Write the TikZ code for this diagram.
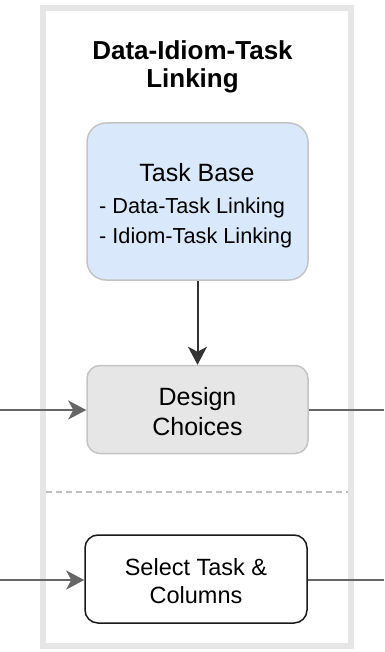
\documentclass[tikz,border=0pt]{standalone}
\usepackage{fontspec}
\setmainfont{Liberation Sans}
\usetikzlibrary{arrows.meta}
\definecolor{framegray}{HTML}{E6E6E6}
\definecolor{taskblue}{HTML}{DAE8FC}
\definecolor{boxline}{HTML}{C4C4C4}
\definecolor{choicefill}{HTML}{E6E6E6}
\definecolor{darkline}{HTML}{333333}
\definecolor{midline}{HTML}{666666}
\definecolor{dashgray}{HTML}{C0C0C0}
\tikzset{
  x=1pt, y=-1pt,
  box/.style={draw, rectangle, inner sep=0pt, line width=1.5pt},
  txt/.style={inner sep=0pt, anchor=base, text=black},
  flow/.style={line width=2pt, -{Stealth[length=18pt,width=19pt,inset=5pt]}},
}
\begin{document}
\begin{tikzpicture}
\useasboundingbox (0,0) rectangle (384,652);
% outer lane frame
\draw[framegray, line width=6pt] (43,8.5) rectangle (351,645.5);
% lane title
\node[txt, font=\fontsize{26}{28}\selectfont\bfseries] (title1) at (192.5,60) {Data-Idiom-Task};
\node[txt, font=\fontsize{26}{28}\selectfont\bfseries] (title2) at (192.5,88) {Linking};
% task base box
\node[box, draw=boxline, fill=taskblue, rounded corners=19pt, minimum width=221pt, minimum height=157pt] (base) at (197.5,201.5) {};
\node[txt, font=\fontsize{25}{28}\selectfont] (baseT) at (197,182) {Task Base};
\node[txt, anchor=base west, font=\fontsize{21.7}{26}\selectfont] (baseL1) at (99,213) {- Data-Task Linking};
\node[txt, anchor=base west, font=\fontsize{21.7}{26}\selectfont] (baseL2) at (99,243) {- Idiom-Task Linking};
% design choices box
\node[box, draw=boxline, fill=choicefill, rounded corners=13pt, minimum width=221pt, minimum height=88pt] (design) at (197.5,409.5) {};
\node[txt, font=\fontsize{25}{28}\selectfont] (designT1) at (197.5,405) {Design};
\node[txt, font=\fontsize{25}{28}\selectfont] (designT2) at (197.5,435) {Choices};
% separator
\coordinate (sepL) at (46,492);
\coordinate (sepR) at (348,492);
\draw[dashgray, line width=1.5pt, dash pattern=on 6pt off 4pt] (sepL) -- (sepR);
% select task box
\node[box, draw=black!90, fill=white, rounded corners=13pt, minimum width=222pt, minimum height=88pt] (select) at (196,579) {};
\node[txt, font=\fontsize{23.5}{28}\selectfont] (selT1) at (196,575) {Select Task \&};
\node[txt, font=\fontsize{23.5}{28}\selectfont] (selT2) at (196,603) {Columns};
% connectors
\coordinate (dIn) at (0,410);
\coordinate (dOut) at (384,410);
\coordinate (sIn) at (0,580);
\coordinate (sOut) at (384,580);
\draw[flow, darkline] (base.south) -- (design.north);
\draw[flow, midline] (dIn) -- (design.west |- dIn);
\draw[line width=2pt, midline] (design.east |- dOut) -- (dOut);
\draw[flow, midline] (sIn) -- (select.west |- sIn);
\draw[line width=2pt, midline] (select.east |- sOut) -- (sOut);
\end{tikzpicture}
\end{document}
